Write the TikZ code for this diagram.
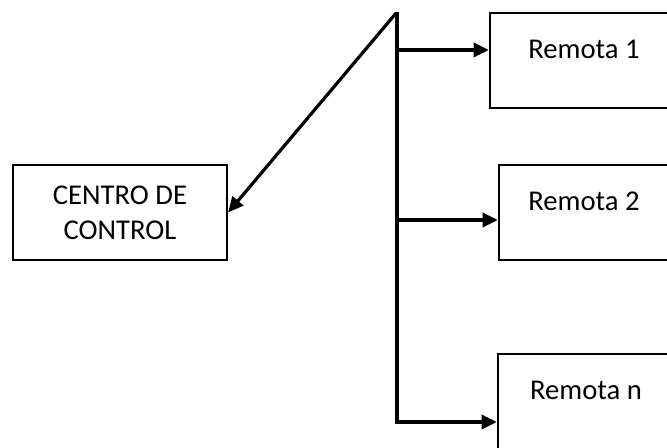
\documentclass[tikz,border=0pt]{standalone}
\usepackage{fontspec}
\setmainfont{Carlito}
\usetikzlibrary{arrows.meta, positioning}

\begin{document}
\begin{tikzpicture}[
    x=0.75pt, y=-0.75pt,
    font=\fontsize{21.5}{26.5}\selectfont,
    ctrlbox/.style={draw, line width=1.7pt, align=center, minimum width=160.5pt, minimum height=71.25pt},
    remota/.style={draw, line width=1.7pt, minimum height=71.25pt, text depth=17pt},
    arr/.style={-{Triangle[length=11.5pt, width=10.5pt]}, line width=3pt}
]
\useasboundingbox (0,0) rectangle (667,448);

\node[ctrlbox] (centro) at (120,212.5) {CENTRO DE\\CONTROL};
\node[remota, minimum width=141pt] (r1) at (584,60.5) {Remota 1};
\node[remota, minimum width=127.5pt] (r2) at (584,212.5) {Remota 2};
\node[remota, minimum width=132pt] (rn) at (586,401.5) {Remota n};

% bus
\coordinate (bustop) at (397,12);
\coordinate (b1) at (397,50);
\coordinate (b2) at (397,220);
\coordinate (bn) at (397,422);

\draw[line width=3pt] (bustop) -- ([yshift=-1.5pt]bn);
\draw[arr, line width=2.4pt, shorten <=1pt] (bustop) -- (centro.east);
\draw[arr] (b1) -- (b1 -| r1.west);
\draw[arr] (b2) -- (b2 -| r2.west);
\draw[arr] ([xshift=-1.5pt]bn) -- (bn -| rn.west);
\end{tikzpicture}
\end{document}
